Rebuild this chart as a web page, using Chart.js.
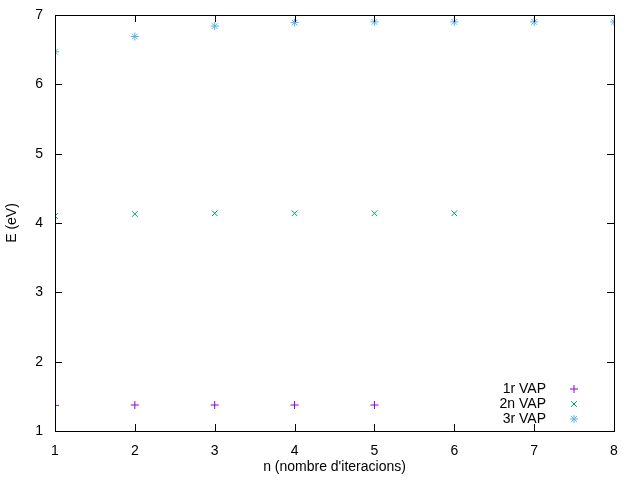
<!DOCTYPE html>
<html>
<head>
<meta charset="utf-8">
<script src="https://cdn.jsdelivr.net/npm/chart.js@4"></script>
<style>
  body { margin: 0; background: #fff; }
</style>
</head>
<body>
<canvas id="chart" width="640" height="480"></canvas>
<script>
// Data
const iterations = [1, 2, 3, 4, 5, 6, 7, 8];
const vap1 = [1.37, 1.375, 1.375, 1.375, 1.375];
const vap2 = [4.10, 4.13, 4.14, 4.14, 4.14, 4.14];
const vap3 = [6.47, 6.69, 6.84, 6.89, 6.90, 6.90, 6.90, 6.90];
const xTicks = [1, 2, 3, 4, 5, 6, 7, 8];
const yTicks = [1, 2, 3, 4, 5, 6, 7];

const toPoints = vals => vals.map((v, i) => ({ x: iterations[i], y: v }));
const FONT = "'Liberation Sans', Arial, sans-serif";

// Gnuplot-style frame, inward ticks and bottom-right legend
const gnuplotFrame = {
  id: "gnuplotFrame",
  afterDraw(chart) {
    const ctx = chart.ctx;
    const a = chart.chartArea;
    const xs = chart.scales.x, ys = chart.scales.y;
    ctx.save();
    ctx.strokeStyle = "#000";
    ctx.lineWidth = 1;
    ctx.strokeRect(Math.round(a.left) + 0.5, Math.round(a.top) + 0.5,
      Math.round(a.right - a.left), Math.round(a.bottom - a.top));
    ctx.beginPath();
    xTicks.forEach(t => {
      const px = Math.round(xs.getPixelForValue(t)) + 0.5;
      ctx.moveTo(px, a.bottom); ctx.lineTo(px, a.bottom - 7);
      ctx.moveTo(px, a.top); ctx.lineTo(px, a.top + 7);
    });
    yTicks.forEach(t => {
      const py = Math.round(ys.getPixelForValue(t)) + 0.5;
      ctx.moveTo(a.left, py); ctx.lineTo(a.left + 7, py);
      ctx.moveTo(a.right, py); ctx.lineTo(a.right - 7, py);
    });
    ctx.stroke();

    // legend
    ctx.font = "14px " + FONT;
    ctx.textAlign = "right";
    ctx.textBaseline = "middle";
    chart.data.datasets.forEach((ds, i) => {
      const y = 389 + i * 15;
      ctx.fillStyle = "#000";
      ctx.fillText(ds.label, 546, y);
      ctx.strokeStyle = ds.borderColor;
      ctx.fillStyle = ds.borderColor;
      ctx.lineWidth = 1;
      Chart.helpers.drawPoint(ctx, { pointStyle: ds.pointStyle, radius: 4, borderWidth: 1 }, 574, y);
    });
    ctx.restore();
  }
};

new Chart(document.getElementById("chart"), {
  type: "scatter",
  data: {
    datasets: [
      { label: "1r VAP", data: toPoints(vap1), pointStyle: "cross", borderColor: "#9400d3", backgroundColor: "#9400d3" },
      { label: "2n VAP", data: toPoints(vap2), pointStyle: "crossRot", borderColor: "#009e73", backgroundColor: "#009e73" },
      { label: "3r VAP", data: toPoints(vap3), pointStyle: "star", borderColor: "#56b4e9", backgroundColor: "#56b4e9" }
    ]
  },
  options: {
    responsive: false,
    animation: false,
    devicePixelRatio: 1,
    elements: { point: { radius: 4, borderWidth: 1, hoverRadius: 4 } },
    layout: { padding: { top: 15, right: 26, left: 0, bottom: 0 } },
    plugins: { legend: { display: false }, tooltip: { enabled: false } },
    scales: {
      x: {
        type: "linear", min: 1, max: 8,
        afterFit: s => { s.height = 49; },
        grid: { display: false },
        border: { display: false },
        ticks: { stepSize: 1, color: "#000", padding: 4, font: { size: 14, family: FONT } },
        title: { display: true, text: "n (nombre d'iteracions)", color: "#000", padding: { top: 0 }, font: { size: 14, family: FONT } }
      },
      y: {
        min: 1, max: 7,
        afterFit: s => { s.width = 55; },
        grid: { display: false },
        border: { display: false },
        ticks: { stepSize: 1, color: "#000", padding: 4, font: { size: 14, family: FONT } },
        title: { display: true, text: "E (eV)", color: "#000", font: { size: 14, family: FONT } }
      }
    }
  },
  plugins: [gnuplotFrame]
});
</script>
</body>
</html>
